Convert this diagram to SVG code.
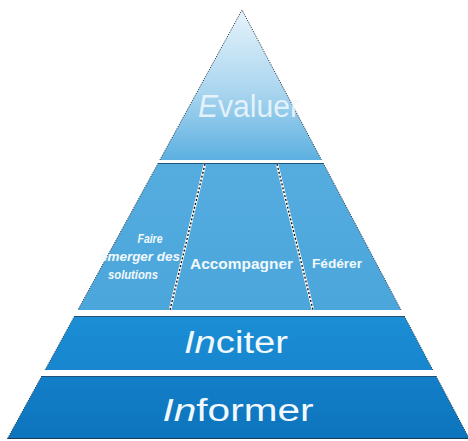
<svg xmlns="http://www.w3.org/2000/svg" width="468" height="441" viewBox="0 0 468 441">
  <defs>
    <linearGradient id="gTop" x1="0" y1="0" x2="0" y2="1">
      <stop offset="0" stop-color="#e6f3fb"/>
      <stop offset="0.55" stop-color="#a9d5ef"/>
      <stop offset="1" stop-color="#5cb0e1"/>
    </linearGradient>
    <linearGradient id="gMid" x1="0" y1="0" x2="0" y2="1">
      <stop offset="0" stop-color="#55acdf"/>
      <stop offset="1" stop-color="#4ba6db"/>
    </linearGradient>
    <linearGradient id="gLow" x1="0" y1="0" x2="0" y2="1">
      <stop offset="0" stop-color="#1b8ed5"/>
      <stop offset="1" stop-color="#1786cf"/>
    </linearGradient>
    <linearGradient id="gBase" x1="0" y1="0" x2="0" y2="1">
      <stop offset="0" stop-color="#137fc8"/>
      <stop offset="1" stop-color="#0c74bd"/>
    </linearGradient>
  </defs>
  <style>
    .edge { fill: none; stroke: #2a3a48; stroke-width: 1; stroke-dasharray: 1.2 1.3; }
    .rim { stroke: #1f5275; stroke-width: 1; }
    .lbl { font-family: "Liberation Sans", Arial, sans-serif; fill: #f2f9fd; text-anchor: middle; }
    .big { font-size: 31px; }
    .mid { font-size: 15px; font-weight: bold; }
    .small { font-size: 12px; font-weight: bold; font-style: italic; }
    .it { font-style: italic; }
    .divW { stroke: #ffffff; stroke-width: 2.6; }
    .divK { stroke: #1a1a1a; stroke-width: 1.4; stroke-dasharray: 2 2; }
  </style>

  <rect width="468" height="441" fill="#ffffff"/>

  <!-- apex: Evaluer -->
  <g id="evaluer">
    <polygon points="242,10 159.9,160 321.5,160" fill="url(#gTop)"/>
    <polyline class="edge" points="159.9,160 242,10 321.5,160"/>
    <text class="lbl big" x="249" y="117" fill-opacity="0.85" textLength="102" lengthAdjust="spacingAndGlyphs"><tspan class="it">E</tspan>valuer</text>
  </g>

  <!-- second tier, split in three -->
  <g id="tier2">
    <polygon points="158.3,163 323.1,163 401,310 77.9,310" fill="url(#gMid)"/>
    <line class="rim" x1="158.3" y1="163.5" x2="323.1" y2="163.5"/>
    <line class="edge" x1="158.3" y1="163" x2="77.9" y2="310"/>
    <line class="edge" x1="323.1" y1="163" x2="401" y2="310"/>
  </g>

  <g id="dividers">
    <line class="divW" x1="205" y1="164" x2="170" y2="310"/>
    <line class="divK" x1="205" y1="164" x2="170" y2="310"/>
    <line class="divW" x1="277" y1="164" x2="313" y2="310"/>
    <line class="divK" x1="277" y1="164" x2="313" y2="310"/>
  </g>

  <g id="faire-emerger">
    <text class="lbl small" x="150" y="243" textLength="25" lengthAdjust="spacingAndGlyphs">Faire</text>
    <text class="lbl small" x="140" y="261" textLength="80" lengthAdjust="spacingAndGlyphs">émerger des</text>
    <text class="lbl small" x="133" y="279" textLength="50" lengthAdjust="spacingAndGlyphs">solutions</text>
  </g>
  <g id="accompagner">
    <text class="lbl mid" x="241.5" y="269" textLength="103" lengthAdjust="spacingAndGlyphs">Accompagner</text>
  </g>
  <g id="federer">
    <text class="lbl" x="337" y="268" font-size="12" font-weight="bold" textLength="50" lengthAdjust="spacingAndGlyphs">Fédérer</text>
  </g>

  <!-- third tier: Inciter -->
  <g id="inciter">
    <polygon points="74.6,316 404.2,316 432.8,370 45.1,370" fill="url(#gLow)"/>
    <line class="rim" x1="74.6" y1="316.5" x2="404.2" y2="316.5"/>
    <line class="edge" x1="74.6" y1="316" x2="45.1" y2="370"/>
    <line class="edge" x1="404.2" y1="316" x2="432.8" y2="370"/>
    <text class="lbl big" x="236" y="353" textLength="104" lengthAdjust="spacingAndGlyphs"><tspan class="it">In</tspan>citer</text>
  </g>

  <!-- base tier: Informer -->
  <g id="informer">
    <polygon points="41.8,376 436,376 469.4,439 7.3,439" fill="url(#gBase)"/>
    <line class="rim" x1="41.8" y1="376.5" x2="436" y2="376.5"/>
    <line x1="7.3" y1="438.5" x2="468" y2="438.5" stroke="#1c3a50" stroke-width="1.2"/>
    <line class="edge" x1="41.8" y1="376" x2="7.3" y2="439"/>
    <line class="edge" x1="436" y1="376" x2="469.4" y2="439"/>
    <text class="lbl big" x="238" y="421" textLength="151" lengthAdjust="spacingAndGlyphs"><tspan class="it">In</tspan>former</text>
  </g>
</svg>
